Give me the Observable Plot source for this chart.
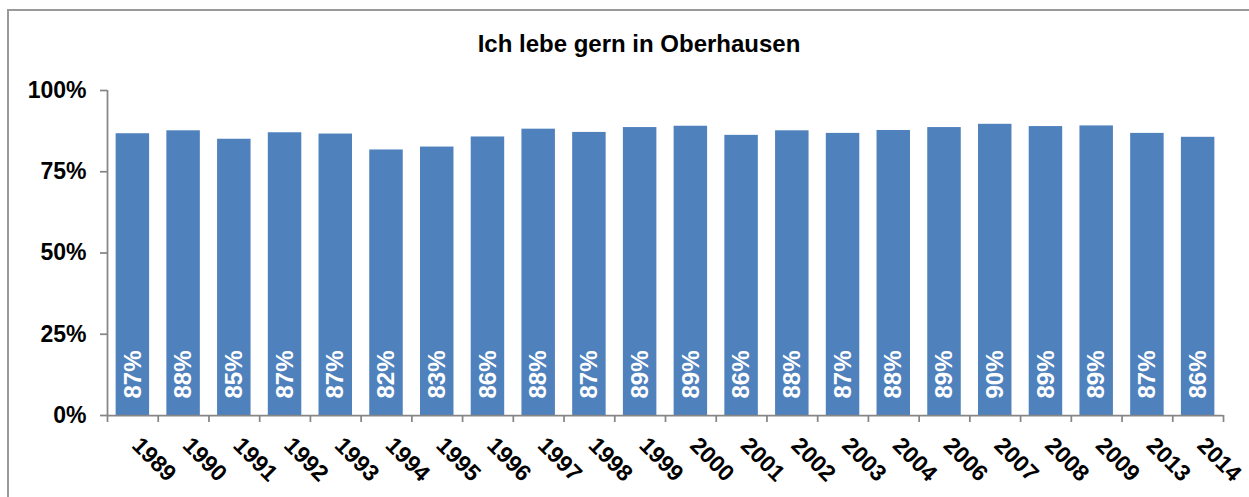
<!DOCTYPE html>
<html>
<head>
<meta charset="utf-8">
<script src="https://cdn.jsdelivr.net/npm/d3@7"></script>
<script src="https://cdn.jsdelivr.net/npm/@observablehq/plot@0.6"></script>
<style>
  html, body { margin: 0; padding: 0; background: #fff; }
  body { position: relative; width: 1249px; height: 497px; overflow: hidden; font-family: "Liberation Sans", Arial, sans-serif; }
  #frame { position: absolute; left: 7px; top: 9px; width: 1300px; height: 600px; border-left: 2px solid #9a9a9a; border-top: 2px solid #9a9a9a; }
  #title { position: absolute; left: 8px; width: 1262px; top: 32px; line-height: 24px; text-align: center; font-size: 24px; font-weight: bold; color: #000; }
  #chart { position: absolute; left: 0; top: 0; }
</style>
</head>
<body>
<div id="frame"></div>
<div id="title">Ich lebe gern in Oberhausen</div>
<div id="chart"></div>
<script>
const years = ["1989","1990","1991","1992","1993","1994","1995","1996","1997","1998","1999","2000","2001","2002","2003","2004","2006","2007","2008","2009","2013","2014"];
const values = [0.867,0.876,0.850,0.870,0.866,0.817,0.826,0.857,0.881,0.871,0.886,0.890,0.862,0.876,0.868,0.877,0.886,0.896,0.889,0.891,0.868,0.856];
const yTicks = [0, 0.25, 0.5, 0.75, 1];

const data = years.map((y, i) => ({year: y, value: values[i]}));
const fmt = d3.format(".0%");

const W = 1249, H = 497, mL = 107, mR = 26, mT = 90, mB = 82;
const pInner = 0.34, pOuter = 0.17;
const step = (W - mL - mR) / (years.length - pInner + 2 * pOuter);
const gray = "#868686";

const chart = Plot.plot({
  width: W,
  height: H,
  marginLeft: mL,
  marginRight: mR,
  marginTop: mT,
  marginBottom: mB,
  style: {fontFamily: "'Liberation Sans', Arial, sans-serif", background: "transparent"},
  x: {type: "band", domain: years, paddingInner: pInner, paddingOuter: pOuter, round: false, label: null},
  y: {domain: [0, 1], label: null},
  marks: [
    Plot.barY(data, {x: "year", y: "value", fill: "#4F81BD"}),
    Plot.text(data, {x: "year", y: () => 0, text: d => fmt(d.value), rotate: -90, textAnchor: "start", dy: -17, fill: "white", fontSize: 24, fontWeight: "bold"}),
    Plot.ruleY([0], {stroke: gray, strokeWidth: 1.75}),
    Plot.ruleX([years[0]], {x: d => d, y1: () => 0, y2: () => 1, dx: -step / 2, stroke: gray, strokeWidth: 1.75}),
    Plot.axisY({ticks: yTicks, tickFormat: fmt, tickSize: 7, tickPadding: 14, fontSize: 23, fontWeight: "bold", stroke: gray, fill: "black", strokeWidth: 1.75, label: null}),
    Plot.axisX({tickSize: 7, tickFormat: () => "", dx: step / 2, stroke: gray, strokeWidth: 1.75, label: null}),
    Plot.axisX({ticks: [years[0]], tickSize: 7, tickFormat: () => "", dx: -step / 2, stroke: gray, strokeWidth: 1.75, label: null}),
    Plot.axisX({tickSize: 0, tickRotate: 45, tickPadding: 26, dx: 3, fontSize: 23, fontWeight: "bold", fill: "black", label: null})
  ]
});
document.getElementById("chart").appendChild(chart);
</script>
</body>
</html>
